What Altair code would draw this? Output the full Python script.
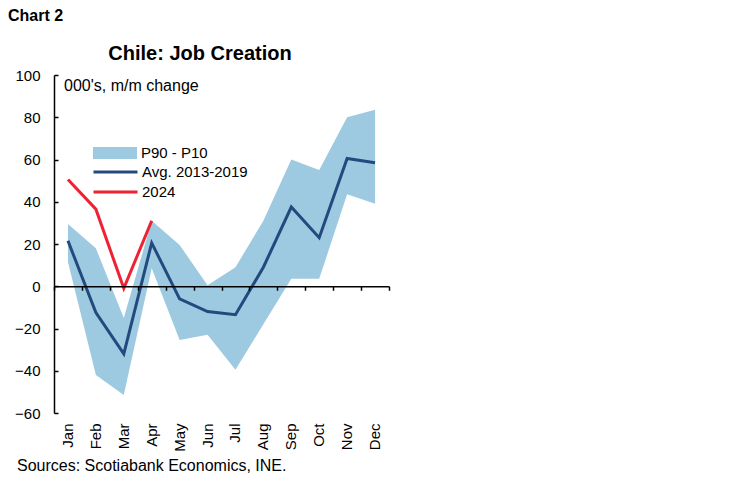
import altair as alt
import pandas as pd

months = ["Jan", "Feb", "Mar", "Apr", "May", "Jun", "Jul", "Aug", "Sep", "Oct", "Nov", "Dec"]
p90 = [29.5, 18.0, -15.0, 31.0, 19.5, 0.5, 9.0, 31.0, 60.0, 55.0, 80.0, 83.5]
p10 = [11.5, -42.0, -51.5, 8.5, -25.5, -23.0, -39.5, -18.0, 3.5, 3.5, 43.5, 39.0]
avg = [21.5, -12.5, -32.0, 20.5, -6.0, -12.0, -13.5, 9.0, 37.5, 23.0, 60.5, 58.5]
y2024 = [50.5, 36.5, -1.0, 31.0]
band_name = "P90 - P10"
line_names = ["Avg. 2013-2019", "2024"]
band_color = "#9ECAE1"
line_colors = ["#234A7E", "#EE2233"]
y_tick_values = [-60, -40, -20, 0, 20, 40, 60, 80, 100]
y_min, y_max = -60, 100

FONT = "Liberation Sans"
W, H = 335, 338

band_df = pd.DataFrame({"month": months, "p90": p90, "p10": p10, "series": band_name})
line_df = pd.DataFrame({
    "month": months + months[: len(y2024)],
    "value": avg + y2024,
    "series": [line_names[0]] * len(avg) + [line_names[1]] * len(y2024),
})

xscale = alt.Scale(type="band", domain=months, paddingInner=0, paddingOuter=0)
yscale = alt.Scale(domain=[y_min, y_max], nice=False, zero=False)

x_label_axis = alt.Axis(
    title=None, orient="bottom", domain=False, ticks=False, grid=False,
    labelAngle=-90, labelAlign="right", labelBaseline="middle", labelPadding=10,
    labelFont=FONT, labelFontSize=15, labelColor="black",
)
x_tick_axis = alt.Axis(
    title=None, orient="bottom", labels=False, grid=False, domain=True, ticks=True,
    tickBand="extent", tickSize=4, tickColor="black", tickWidth=1.5,
    domainColor="black", domainWidth=1.5,
    offset=-H * (0 - y_min) / (y_max - y_min), zindex=1,
)
y_label_axis = alt.Axis(
    title=None, orient="left", values=y_tick_values, domain=False, ticks=False, grid=False,
    labelPadding=14, labelFont=FONT, labelFontSize=15, labelColor="black",
)
y_tick_axis = alt.Axis(
    title=None, orient="right", values=y_tick_values, labels=False, grid=False,
    domain=True, ticks=True, tickSize=4, tickColor="black", tickWidth=1.5,
    domainColor="black", domainWidth=1.5, offset=-W, zindex=1,
)

band_legend = alt.Legend(
    title=None, orient="none", legendX=39, legendY=56,
    symbolType="M-1,-0.27H1V0.27H-1Z", symbolSize=1936, symbolStrokeWidth=0,
    labelFont=FONT, labelFontSize=15, labelColor="black", labelOffset=4, padding=0,
)
line_legend = alt.Legend(
    title=None, orient="none", legendX=54, legendY=89.5, symbolType="M-4,0H4",
    symbolSize=121, symbolStrokeWidth=3, labelFont=FONT, labelFontSize=15,
    labelColor="black", labelOffset=19, rowPadding=4, padding=0,
)

area = alt.Chart(band_df).mark_area(opacity=1).encode(
    x=alt.X("month:N", scale=xscale, axis=x_label_axis, bandPosition=0.5),
    y=alt.Y("p90:Q", scale=yscale, axis=y_label_axis),
    y2="p10:Q",
    fill=alt.Fill("series:N", scale=alt.Scale(domain=[band_name], range=[band_color]), legend=band_legend),
)

lines = alt.Chart(line_df).mark_line(strokeJoin="miter", strokeWidth=3).encode(
    x=alt.X("month:N", scale=xscale, axis=x_tick_axis, bandPosition=0.5),
    y=alt.Y("value:Q", scale=yscale, axis=y_tick_axis),
    color=alt.Color("series:N", scale=alt.Scale(domain=line_names, range=line_colors), legend=line_legend),
)

one = alt.Data(values=[{}])

def label(text, x, y, size, bold=False, align="left"):
    return alt.Chart(one).mark_text(
        text=text, font=FONT, fontSize=size, fontWeight="bold" if bold else "normal",
        color="black", align=align, baseline="alphabetic",
    ).encode(x=alt.value(x), y=alt.value(y))

chart_no = label("Chart 2", -46, -54, 16, bold=True)
title = label("Chile: Job Creation", 146, -15, 20, bold=True, align="center")
units = label("000's, m/m change", 10, 16, 16)
source = label("Sources: Scotiabank Economics, INE.", -37, 396, 16)

chart = alt.layer(area, lines, chart_no, title, units, source).resolve_axis(
    x="independent", y="independent"
).properties(
    width=W, height=H,
    autosize=alt.AutoSizeParams(type="none"),
    padding={"left": 46, "top": 67, "right": 340, "bottom": 61},
).configure_view(stroke=None)

chart.save("out.html", embed_options={"renderer": "svg", "actions": False})
